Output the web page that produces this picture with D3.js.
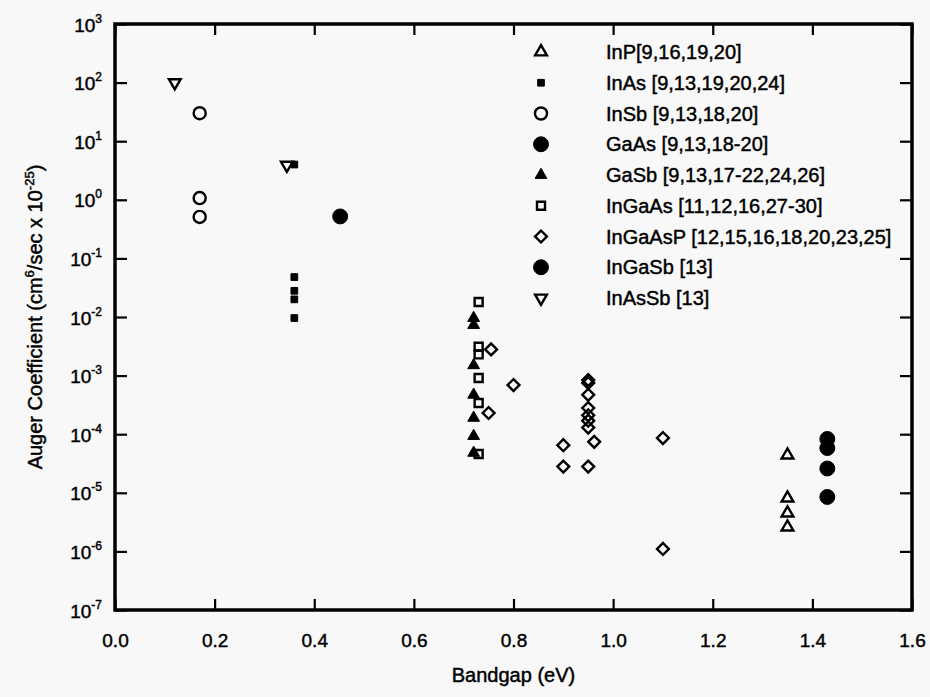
<!DOCTYPE html>
<html>
<head>
<meta charset="utf-8">
<script src="https://cdn.jsdelivr.net/npm/d3@7"></script>
<style>
  body { margin: 0; background: #f8f8f8; }
  svg { font-family: "Liberation Sans", Arial, sans-serif; }
  text { fill: #000; stroke: #000; stroke-width: 0.45px; }
  .tickText { font-size: 19px; }
</style>
</head>
<body>
<div id="chart"></div>
<script>
//Define SVG area
var svgWidth = 930;
var svgHeight = 697;

//Plot frame in pixels
var frame = { left: 115, right: 912, top: 24, bottom: 610 };

//Tick values
var xTicks = [0.0, 0.2, 0.4, 0.6, 0.8, 1.0, 1.2, 1.4, 1.6];
var yExponents = [3, 2, 1, 0, -1, -2, -3, -4, -5, -6, -7];

//Series data (bandgap eV, Auger coefficient x 1e-25)
var inpX = [1.35, 1.35, 1.35, 1.35];
var inpY = [4.4e-5, 8.1e-6, 4.5e-6, 2.6e-6];

var inasX = [0.36, 0.36, 0.36, 0.36, 0.36];
var inasY = [4.0, 0.048, 0.028, 0.020, 0.0096];

var insbX = [0.17, 0.17, 0.17];
var insbY = [30, 1.07, 0.51];

var gaasX = [1.43, 1.43, 1.43, 1.43];
var gaasY = [8.3e-5, 5.8e-5, 2.6e-5, 8.5e-6];

var gasbX = [0.72, 0.72, 0.72, 0.72, 0.72, 0.72, 0.72];
var gasbY = [0.0096, 0.0073, 0.0015, 0.00047, 0.00019, 9.3e-5, 4.8e-5];

var ingaasX = [0.73, 0.73, 0.73, 0.73, 0.73, 0.73];
var ingaasY = [0.018, 0.0031, 0.0023, 0.00091, 0.00034, 4.6e-5];

var ingaaspX = [0.755, 0.80, 0.75, 0.90, 0.90, 0.95, 0.95, 0.95, 0.95, 0.95, 0.95, 0.95, 0.962, 0.95, 1.10, 1.10];
var ingaaspY = [0.0028, 0.00069, 0.00023, 6.5e-5, 2.8e-5, 0.00084, 0.00075, 0.00047, 0.00028, 0.00021, 0.00017, 0.00013, 7.4e-5, 2.8e-5, 8.6e-5, 1.1e-6];

var ingasbX = [0.452];
var ingasbY = [0.52];

var inassbX = [0.12, 0.345];
var inassbY = [100, 3.9];

var legendLabels = [
    "InP[9,16,19,20]",
    "InAs [9,13,19,20,24]",
    "InSb [9,13,18,20]",
    "GaAs [9,13,18-20]",
    "GaSb [9,13,17-22,24,26]",
    "InGaAs [11,12,16,27-30]",
    "InGaAsP [12,15,16,18,20,23,25]",
    "InGaSb [13]",
    "InAsSb [13]"
];

//Marker styles: shape, size (area), filled?, rotation
var seriesList = [
    { x: inpX, y: inpY, shape: d3.symbolTriangle, size: 60, fill: false, rot: 0 },
    { x: inasX, y: inasY, shape: d3.symbolSquare, size: 45, fill: true, rot: 0 },
    { x: insbX, y: insbY, shape: d3.symbolCircle, size: 115, fill: false, rot: 0 },
    { x: gaasX, y: gaasY, shape: d3.symbolCircle, size: 175, fill: true, rot: 0 },
    { x: gasbX, y: gasbY, shape: d3.symbolTriangle, size: 60, fill: true, rot: 0 },
    { x: ingaasX, y: ingaasY, shape: d3.symbolSquare, size: 64, fill: false, rot: 0 },
    { x: ingaaspX, y: ingaaspY, shape: d3.symbolSquare, size: 70, fill: false, rot: 45 },
    { x: ingasbX, y: ingasbY, shape: d3.symbolCircle, size: 175, fill: true, rot: 0 },
    { x: inassbX, y: inassbY, shape: d3.symbolTriangle, size: 60, fill: false, rot: 180 }
];

var svg = d3.select("#chart")
    .append("svg")
    .attr("width", svgWidth)
    .attr("height", svgHeight);

svg.append("rect")
    .attr("width", svgWidth)
    .attr("height", svgHeight)
    .attr("fill", "#f8f8f8");

//Scales
var xScale = d3.scaleLinear()
    .domain([0, 1.6])
    .range([frame.left, frame.right]);

var yScale = d3.scaleLog()
    .domain([1e-7, 1e3])
    .range([frame.bottom, frame.top]);

var yTickVals = yExponents.map(e => Math.pow(10, e));

//Axes with inward ticks
var bottomAxis = d3.axisBottom(xScale).tickValues(xTicks).tickSizeInner(-11).tickSizeOuter(0).tickFormat(d3.format(".1f")).tickPadding(24);
var topAxis = d3.axisTop(xScale).tickValues(xTicks).tickSizeInner(-11).tickSizeOuter(0).tickFormat("");
var leftAxis = d3.axisLeft(yScale).tickValues(yTickVals).tickSizeInner(-12).tickSizeOuter(0).tickFormat("");
var rightAxis = d3.axisRight(yScale).tickValues(yTickVals).tickSizeInner(-12).tickSizeOuter(0).tickFormat("");

function styleAxis(g) {
    g.select(".domain").remove();
    g.selectAll(".tick line").attr("stroke", "#000").attr("stroke-width", 2.2);
}

var xAxisG = svg.append("g")
    .attr("transform", `translate(0, ${frame.bottom})`)
    .call(bottomAxis)
    .call(styleAxis);

xAxisG.selectAll(".tick text")
    .attr("class", "tickText")
    .attr("font-family", null)
    .attr("font-size", null);

svg.append("g")
    .attr("transform", `translate(0, ${frame.top})`)
    .call(topAxis)
    .call(styleAxis);

var yAxisG = svg.append("g")
    .attr("transform", `translate(${frame.left}, 0)`)
    .call(leftAxis)
    .call(styleAxis);

svg.append("g")
    .attr("transform", `translate(${frame.right}, 0)`)
    .call(rightAxis)
    .call(styleAxis);

//Y tick labels with superscript exponents
yAxisG.selectAll(".tick").each(function(d) {
    var t = d3.select(this).append("text")
        .attr("class", "tickText")
        .attr("x", -13)
        .attr("y", 7)
        .attr("text-anchor", "end");
    t.append("tspan").text("10");
    t.append("tspan")
        .attr("dy", -9)
        .attr("font-size", "12px")
        .text(Math.round(Math.log10(d)));
});

//Frame
svg.append("rect")
    .attr("x", frame.left)
    .attr("y", frame.top)
    .attr("width", frame.right - frame.left)
    .attr("height", frame.bottom - frame.top)
    .attr("fill", "none")
    .attr("stroke", "#000")
    .attr("stroke-width", 3.5);

//Markers
function symbolPath(s) {
    return d3.symbol().type(s.shape).size(s.size)();
}

function drawMarker(g, s, px, py) {
    g.append("path")
        .attr("d", symbolPath(s))
        .attr("transform", `translate(${px}, ${py}) rotate(${s.rot})`)
        .attr("fill", s.fill ? "#000" : "none")
        .attr("stroke", "#000")
        .attr("stroke-width", s.fill ? 1 : 2.4);
}

seriesList.forEach(function(s) {
    var g = svg.append("g");
    s.x.forEach(function(v, i) {
        drawMarker(g, s, xScale(v), yScale(s.y[i]));
    });
});

//Legend
var legend = svg.append("g");
legendLabels.forEach(function(label, i) {
    var ly = 52 + i * 30.75;
    drawMarker(legend, seriesList[i], 541, ly);
    legend.append("text")
        .attr("x", 606)
        .attr("y", ly + 7)
        .attr("font-size", "20px")
        .text(label);
});

//Axis titles
svg.append("text")
    .attr("x", (frame.left + frame.right) / 2)
    .attr("y", 682)
    .attr("text-anchor", "middle")
    .attr("font-size", "20px")
    .text("Bandgap (eV)");

var yTitle = svg.append("text")
    .attr("transform", `translate(42, ${(frame.top + frame.bottom) / 2}) rotate(-90)`)
    .attr("text-anchor", "middle")
    .attr("font-size", "20px");
yTitle.append("tspan").text("Auger Coefficient (cm");
yTitle.append("tspan").attr("dy", -8).attr("font-size", "13px").text("6");
yTitle.append("tspan").attr("dy", 8).text("/sec x 10");
yTitle.append("tspan").attr("dy", -8).attr("font-size", "13px").text("-25");
yTitle.append("tspan").attr("dy", 8).text(")");
</script>
</body>
</html>
